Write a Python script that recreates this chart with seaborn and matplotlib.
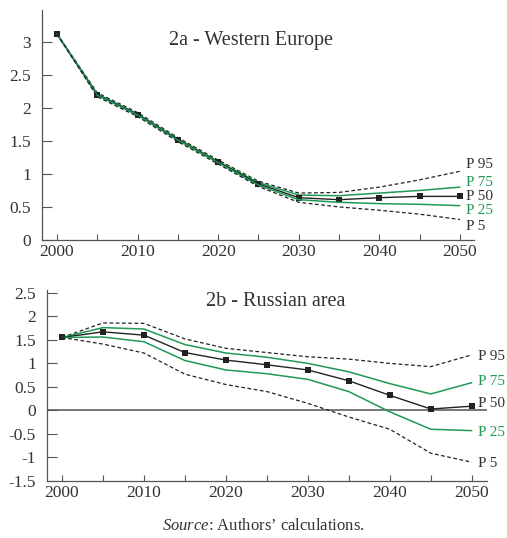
import numpy as np
import pandas as pd
import matplotlib
matplotlib.use("Agg")
import matplotlib.pyplot as plt
import seaborn as sns

# --- Data ---
years = [2000, 2005, 2010, 2015, 2020, 2025, 2030, 2035, 2040, 2045, 2050]

# 2a - Western Europe
we_p95 = [3.12, 2.23, 1.93, 1.55, 1.21, 0.89, 0.71, 0.72, 0.80, 0.91, 1.04]
we_p75 = [3.12, 2.21, 1.91, 1.53, 1.19, 0.87, 0.68, 0.67, 0.71, 0.75, 0.80]
we_p50 = [3.12, 2.20, 1.90, 1.52, 1.18, 0.85, 0.64, 0.61, 0.64, 0.66, 0.66]
we_p25 = [3.12, 2.19, 1.89, 1.51, 1.17, 0.83, 0.61, 0.57, 0.55, 0.54, 0.52]
we_p5 = [3.12, 2.17, 1.87, 1.49, 1.15, 0.81, 0.57, 0.50, 0.45, 0.39, 0.31]

# 2b - Russian area
ru_p95 = [1.55, 1.86, 1.85, 1.52, 1.32, 1.23, 1.14, 1.09, 1.00, 0.93, 1.18]
ru_p75 = [1.55, 1.76, 1.73, 1.40, 1.22, 1.13, 1.00, 0.82, 0.57, 0.35, 0.59]
ru_p50 = [1.55, 1.67, 1.60, 1.23, 1.07, 0.97, 0.86, 0.63, 0.32, 0.03, 0.09]
ru_p25 = [1.55, 1.56, 1.46, 1.06, 0.86, 0.78, 0.66, 0.40, -0.03, -0.40, -0.43]
ru_p5 = [1.55, 1.41, 1.22, 0.77, 0.55, 0.40, 0.15, -0.14, -0.40, -0.91, -1.10]

pct_labels = ["P 95", "P 75", "P 50", "P 25", "P 5"]
we_label_y = [1.14, 0.87, 0.66, 0.44, 0.21]
ru_label_y = [1.15, 0.61, 0.14, -0.47, -1.12]

# --- Style ---
sns.set_theme(style="white")
plt.rcParams["font.family"] = ["Liberation Serif", "DejaVu Serif"]
plt.rcParams["mathtext.fontset"] = "custom"
plt.rcParams["mathtext.it"] = "Liberation Serif:italic"
plt.rcParams["mathtext.rm"] = "Liberation Serif"
TXT = "#333333"
AX = "#555555"
GREEN = "#1e9a55"

styles = [
    dict(color="#222222", linestyle=(0, (3, 2)), linewidth=0.9),
    dict(color=GREEN, linestyle="-", linewidth=1.1),
    dict(color="#222222", linestyle="-", linewidth=1.0, marker="s", markersize=4.5,
         markeredgewidth=0),
    dict(color=GREEN, linestyle="-", linewidth=1.1),
    dict(color="#222222", linestyle=(0, (3, 2)), linewidth=0.9),
]
label_colors = [TXT, GREEN, TXT, GREEN, TXT]

fig = plt.figure(figsize=(5.07, 5.38), dpi=100)
ax1 = fig.add_axes([0.0828, 0.554, 0.852, 0.427])
ax2 = fig.add_axes([0.0927, 0.106, 0.868, 0.355])


def draw_panel(ax, series, label_y, title, xlim, ylim, yticks, title_xy):
    for vals, st in zip(series, styles):
        sns.lineplot(x=years, y=vals, ax=ax, **st)
    for lab, ly, c in zip(pct_labels, label_y, label_colors):
        ax.text(2050.8, ly, lab, color=c, fontsize=11, ha="left", va="center",
                clip_on=False)
    ax.set_xlim(*xlim)
    ax.set_ylim(*ylim)
    ax.set_xticks(np.arange(2000, 2051, 5))
    ax.set_xticklabels([str(y) if y % 10 == 0 else "" for y in range(2000, 2051, 5)])
    ax.set_yticks(yticks)
    ax.set_yticklabels([f"{t:g}" for t in yticks])
    ax.tick_params(axis="x", direction="in", length=4.5, width=0.8, color=AX,
                   labelsize=12.5, labelcolor=TXT, pad=3, bottom=True)
    ax.tick_params(axis="y", direction="in", length=7, width=0.8, color=AX,
                   labelsize=12.5, labelcolor=TXT, pad=8, left=True)
    for side in ["top", "right"]:
        ax.spines[side].set_visible(False)
    for side in ["left", "bottom"]:
        ax.spines[side].set_color(AX)
        ax.spines[side].set_linewidth(0.9)
    ax.set_xlabel("")
    ax.set_ylabel("")
    ax.text(title_xy[0], title_xy[1], title, transform=ax.transAxes, fontsize=14.5,
            color=TXT, ha="center", va="center")


draw_panel(ax1, [we_p95, we_p75, we_p50, we_p25, we_p5], we_label_y,
           "2a - Western Europe", (1998.14, 2051.74), (0, 3.48),
           [0, 0.5, 1, 1.5, 2, 2.5, 3], (0.483, 0.869))

ax2.axhline(0, color="#777777", linewidth=1.4, zorder=0)
draw_panel(ax2, [ru_p95, ru_p75, ru_p50, ru_p25, ru_p5], ru_label_y,
           "2b - Russian area", (1998.17, 2051.87), (-1.5, 2.56),
           [-1.5, -1, -0.5, 0, 0.5, 1, 1.5, 2, 2.5], (0.52, 0.94))

fig.text(0.52, 0.022, r"$\mathit{Source}$: Authors’ calculations.", fontsize=12,
         color=TXT, ha="center", va="center")

fig.savefig("out.png", dpi=100, facecolor="white")
